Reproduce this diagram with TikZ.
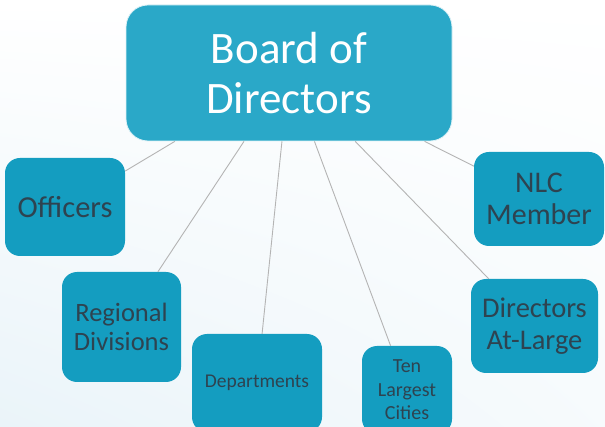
\documentclass[tikz,border=0pt]{standalone}
\usepackage{fontspec}
\setmainfont{Carlito}
\usetikzlibrary{shadings}
\definecolor{topfill}{HTML}{2AA8C8}
\definecolor{unitfill}{HTML}{149DC0}
\definecolor{unittext}{HTML}{2E4350}
\definecolor{linkgray}{HTML}{B4B4B4}
\definecolor{bgblue}{HTML}{EAF4F9}
\newcommand{\fsz}[2]{\fontsize{#1}{#2}\selectfont}
\tikzset{
  topbox/.style={draw=white!85!topfill, line width=0.8pt, fill=topfill, rounded corners=22pt,
    text=white, align=center, inner sep=0pt},
  unitbox/.style={fill=unitfill, rounded corners=15pt, text=unittext, align=center, inner sep=0pt},
  link/.style={draw=linkgray, line width=0.9pt}
}
\begin{document}
\begin{tikzpicture}[x=1pt,y=-1pt]
		\clip (0,0) rectangle (605,427);
		\shade[upper left=white, upper right=white, lower left=bgblue, lower right=white!60!bgblue] (0,0) rectangle (605,427);
		
		\node[topbox, minimum width=326pt, minimum height=136pt, font=\fsz{45}{50}] (board) at (289,73)
			{Board of\\Directors};
		
		\node[unitbox, minimum width=120pt, minimum height=98pt, font=\fsz{30.5}{32}] (officers) at (65,207)
			{Officers};
		\node[unitbox, minimum width=119pt, minimum height=110pt, font=\fsz{26.5}{29}] (regional) at (121.5,327)
			{Regional\\Divisions};
		\node[unitbox, minimum width=130pt, minimum height=98pt, font=\fsz{19.5}{22}] (depts) at (257,383)
			{Departments};
		\node[unitbox, minimum width=90pt, minimum height=88pt, font=\fsz{20}{23.5}] (cities) at (407,390)
			{Ten\\Largest\\Cities};
		\node[unitbox, minimum width=127pt, minimum height=94pt, font=\fsz{28.5}{32}] (atlarge) at (534.5,326)
			{Directors\\At-Large};
		\node[unitbox, minimum width=130pt, minimum height=94pt, font=\fsz{30}{32}] (nlc) at (539,199)
			{NLC\\Member};
		
		\draw[link] (board) -- (officers);
		\draw[link] (board) -- (regional);
		\draw[link] (board) -- (depts);
		\draw[link] (board) -- (cities);
		\draw[link] (board) -- (atlarge);
		\draw[link] (board) -- (nlc);
	\end{tikzpicture}
\end{document}
